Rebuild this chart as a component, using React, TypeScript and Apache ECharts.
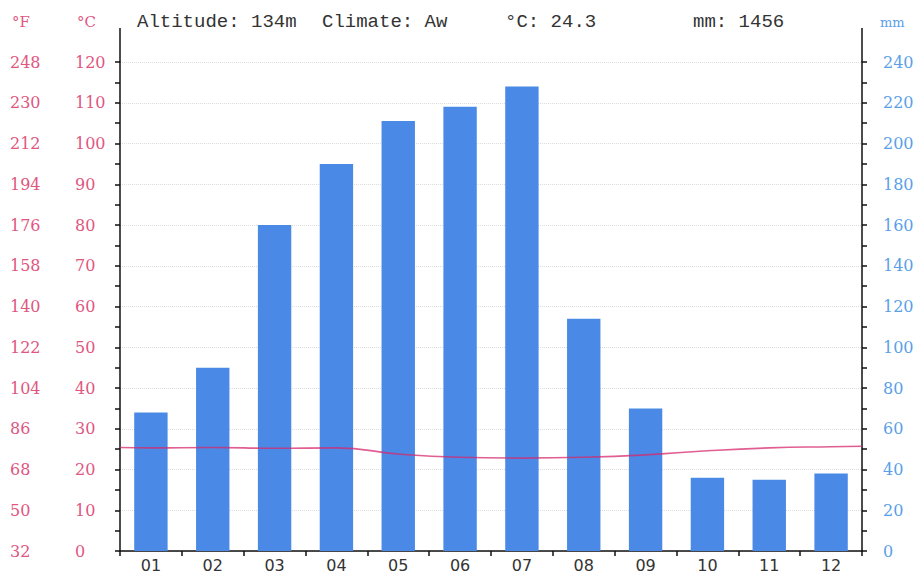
import React, { useEffect, useRef } from "react";
import * as echarts from "echarts";

const months = ["01", "02", "03", "04", "05", "06", "07", "08", "09", "10", "11", "12"];
const precipitationMm = [68, 90, 160, 190, 211, 218, 228, 114, 70, 36, 35, 38];
const temperatureC = [25.3, 25.4, 25.2, 25.3, 23.8, 23.0, 22.8, 23.0, 23.6, 24.6, 25.3, 25.6];
const temperatureEdgeStart = 25.4;
const temperatureEdgeEnd = 25.7;
const headerTexts = ["Altitude: 134m", "Climate: Aw", "°C: 24.3", "mm: 1456"];

const PINK = "#e0567f";
const BLUE = "#5a9fe8";
const BAR = "#4a8ae6";

export default function App() {
  const ref = useRef<HTMLDivElement>(null);

  useEffect(() => {
    if (!ref.current) return;
    const chart = echarts.init(ref.current, null, { renderer: "svg" });

    const linePoints: [number, number][] = [[0, temperatureEdgeStart]];
    temperatureC.forEach((v, i) => linePoints.push([i + 0.5, v]));
    linePoints.push([12, temperatureEdgeEnd]);

    const labelFont = { fontFamily: "DejaVu Serif", fontSize: 16 };
    const monoFont = { fontFamily: "Liberation Mono", fontSize: 19, fill: "#333" };

    chart.setOption({
      animation: false,
      backgroundColor: "#fff",
      grid: { left: 120, right: 55, top: 62, bottom: 22, containLabel: false },
      xAxis: [
        {
          type: "category",
          data: months,
          boundaryGap: true,
          axisLine: { lineStyle: { color: "#111", width: 1.5 } },
          axisTick: { show: true, length: 5, lineStyle: { color: "#111", width: 1.5 } },
          axisLabel: { color: "#333", fontFamily: "DejaVu Sans", fontSize: 16, margin: 6 },
          splitLine: { show: false },
        },
        { type: "value", min: 0, max: 12, show: false },
      ],
      yAxis: [
        {
          type: "value",
          position: "left",
          min: 0,
          max: 120,
          interval: 10,
          axisLine: { show: true, lineStyle: { color: "#111", width: 1.5 } },
          axisTick: { show: true, length: 5, lineStyle: { color: "#111", width: 1.5 } },
          minorTick: { show: true, splitNumber: 2, length: 5, lineStyle: { color: "#111", width: 1.5 } },
          axisLabel: { color: PINK, align: "left", margin: 45, ...labelFont },
          splitLine: { show: true, lineStyle: { color: "#dcdcdc", type: "dotted", width: 1 } },
        },
        {
          type: "value",
          position: "left",
          min: 0,
          max: 120,
          interval: 10,
          axisLine: { show: false },
          axisTick: { show: false },
          axisLabel: {
            color: PINK,
            align: "left",
            margin: 110,
            ...labelFont,
            formatter: (v: number) => String(Math.round(v * 1.8 + 32)),
          },
          splitLine: { show: false },
        },
        {
          type: "value",
          position: "right",
          min: 0,
          max: 240,
          interval: 20,
          axisLine: { show: true, lineStyle: { color: "#111", width: 1.5 } },
          axisTick: { show: true, length: 5, lineStyle: { color: "#111", width: 1.5 } },
          minorTick: { show: true, splitNumber: 2, length: 5, lineStyle: { color: "#111", width: 1.5 } },
          axisLabel: { color: BLUE, align: "left", margin: 21, ...labelFont },
          splitLine: { show: false },
        },
      ],
      series: [
        {
          type: "bar",
          xAxisIndex: 0,
          yAxisIndex: 2,
          data: precipitationMm,
          barWidth: "54%",
          itemStyle: { color: BAR },
          z: 2,
        },
        {
          type: "line",
          xAxisIndex: 1,
          yAxisIndex: 0,
          data: linePoints,
          smooth: true,
          symbol: "none",
          lineStyle: { color: "rgba(214,40,110,0.75)", width: 1.6 },
          z: 3,
        },
      ],
      graphic: [
        { type: "line", shape: { x1: 120, y1: 28, x2: 120, y2: 62 }, style: { stroke: "#111", lineWidth: 1.5 } },
        { type: "line", shape: { x1: 862, y1: 28, x2: 862, y2: 62 }, style: { stroke: "#111", lineWidth: 1.5 } },
        { type: "text", x: 12, y: 22, style: { text: "°F", fill: PINK, fontFamily: "DejaVu Serif", fontSize: 15, verticalAlign: "middle" } },
        { type: "text", x: 77, y: 22, style: { text: "°C", fill: PINK, fontFamily: "DejaVu Serif", fontSize: 15, verticalAlign: "middle" } },
        { type: "text", x: 880, y: 22, style: { text: "mm", fill: BLUE, fontFamily: "DejaVu Serif", fontSize: 13, verticalAlign: "middle" } },
        { type: "text", x: 137, y: 22, style: { text: headerTexts[0], ...monoFont, verticalAlign: "middle" } },
        { type: "text", x: 322, y: 22, style: { text: headerTexts[1], ...monoFont, verticalAlign: "middle" } },
        { type: "text", x: 505, y: 22, style: { text: headerTexts[2], ...monoFont, verticalAlign: "middle" } },
        { type: "text", x: 693, y: 22, style: { text: headerTexts[3], ...monoFont, verticalAlign: "middle" } },
      ],
    });

    return () => chart.dispose();
  }, []);

  return (
    <div
      ref={ref}
      style={{ position: "fixed", left: 0, top: 0, width: 917, height: 573, background: "#fff" }}
    />
  );
}
